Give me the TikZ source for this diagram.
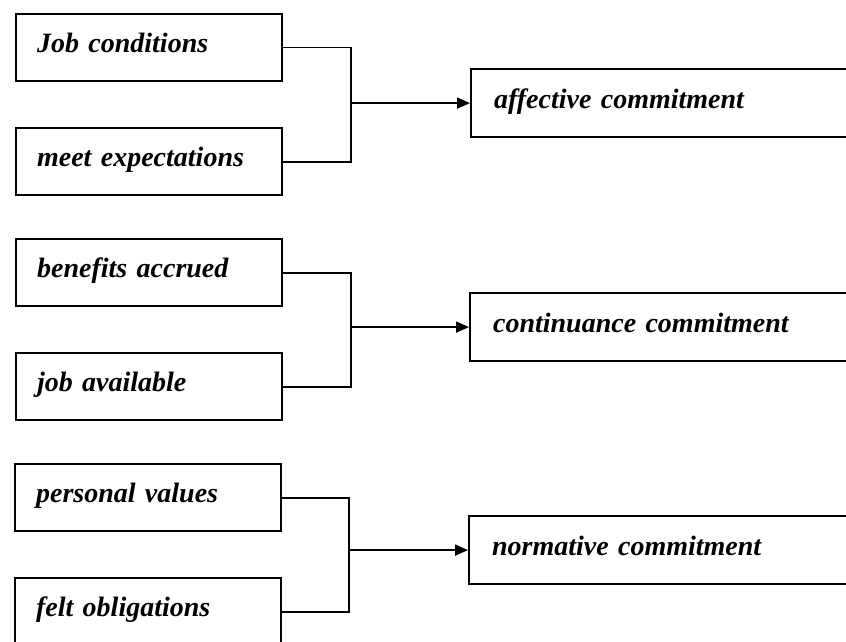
\documentclass[tikz,border=0pt]{standalone}
\usepackage{fontspec}
\setmainfont{Liberation Serif}
\usetikzlibrary{arrows.meta}
\begin{document}
\begin{tikzpicture}[x=1pt,y=-1pt,
  every node/.style={font=\fontsize{28}{32}\selectfont\bfseries\itshape},
  srcbox/.style={draw,line width=2.2pt,rectangle,minimum width=266pt,minimum height=67pt,
    anchor=north west,text width=224pt,align=left,inner xsep=20pt,inner ysep=0pt,
    text height=20pt,text depth=10pt},
  outbox/.style={draw,line width=2.2pt,rectangle,minimum width=440pt,minimum height=68pt,
    anchor=north west,text width=394pt,align=left,inner xsep=22pt,inner ysep=0pt,
    text height=20pt,text depth=10pt},
  link/.style={line width=1.8pt},
  feed/.style={line width=1.8pt,-{Triangle[length=13pt,width=11pt]}}]
\useasboundingbox (0,0) rectangle (846,642);
\clip (0,0) rectangle (846,642);

% affective commitment
\node[srcbox] (jc) at (15,13)  {Job conditions};
\node[srcbox] (me) at (15,127) {meet expectations};
\node[outbox] (ac) at (470,68) {affective commitment};

% continuance commitment
\node[srcbox] (ba) at (15,238) {benefits accrued};
\node[srcbox] (ja) at (15,352) {job available};
\node[outbox] (cc) at (469,292) {continuance commitment};

% normative commitment
\node[srcbox] (pv) at (14,463) {personal values};
\node[srcbox] (fo) at (14,577) {felt obligations};
\node[outbox] (nc) at (468,515) {normative commitment};

% x positions of the forks
\coordinate (k1) at (351,0);
\coordinate (k2) at (351,0);
\coordinate (k3) at (349,0);

\draw[link] (jc.east) -- (jc.east -| k1) -- (me.east -| k1) -- (me.east);
\draw[feed] (ac.west -| k1) -- (ac.west);

\draw[link] (ba.east) -- (ba.east -| k2) -- (ja.east -| k2) -- (ja.east);
\draw[feed] (cc.west -| k2) -- (cc.west);

\draw[link] (pv.east) -- (pv.east -| k3) -- (fo.east -| k3) -- (fo.east);
\draw[feed] (nc.west -| k3) -- (nc.west);
\end{tikzpicture}
\end{document}
